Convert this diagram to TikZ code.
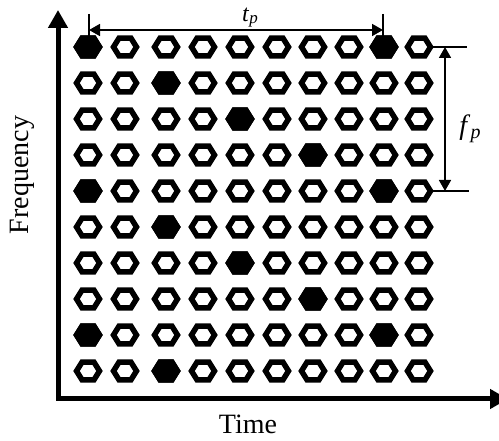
\documentclass[tikz,border=0pt]{standalone}
\usepackage{fontspec}
\setmainfont{Liberation Serif}
\usetikzlibrary{arrows.meta}
\tikzset{
  hexbase/.style={line width=5.5pt, line join=miter, draw=black},
  hexo/.pic={\path[hexbase,fill=white] (-11.5,0)--(-6,-8.8)--(6,-8.8)--(11.5,0)--(6,8.8)--(-6,8.8)--cycle;},
  hexf/.pic={\path[hexbase,fill=black] (-11.5,0)--(-6,-8.8)--(6,-8.8)--(11.5,0)--(6,8.8)--(-6,8.8)--cycle;},
  axisline/.style={line width=5pt, line join=miter, {Triangle[length=18pt,width=19pt]}-{Triangle[length=18pt,width=19pt]}},
  dimline/.style={line width=1.8pt, {Triangle[length=11pt,width=12pt]}-{Triangle[length=11pt,width=12pt]}},
  tickline/.style={line width=1.8pt},
  lbl/.style={font=\fontsize{28}{30}\selectfont, inner sep=0pt}
}
\begin{document}
\begin{tikzpicture}[x=1pt,y=-1pt]
\useasboundingbox (0,0) rectangle (499,441);
% grid of hexagons
\foreach \r [count=\i] in {47,83,119,155,191,227,263,299,335,371} {
  \foreach \c [count=\j] in {88,125,166,203,240,277,313,349,384,419} {
    \coordinate (h-\i-\j) at (\c,\r);
    \pic at (h-\i-\j) {hexo};
  }
}
\foreach \p in {1-1,1-9,2-3,3-5,4-7,5-1,5-9,6-3,7-5,8-7,9-1,9-9,10-3}
  \pic at (h-\p) {hexf};
% axes
\coordinate (ytip) at (58,10);
\coordinate (xtip) at (508,399);
\draw[axisline] (ytip) |- (xtip);
% t_p dimension
\coordinate (tL) at (89,30);
\coordinate (tR) at (383,30);
\coordinate (tL1) at (89,14);
\coordinate (tL2) at (89,37);
\coordinate (tR1) at (383,14);
\coordinate (tR2) at (383,37);
\draw[tickline] (tL1) -- (tL2);
\draw[tickline] (tR1) -- (tR2);
\node[lbl, font=\fontsize{24}{26}\selectfont, anchor=base west] (tp) at (242,22) {\textit{t}\raisebox{-2pt}{\fontsize{17}{19}\selectfont\textit{p}}};
\draw[dimline] (tL) -- (tR);
% f_p dimension
\coordinate (fT) at (445,47);
\coordinate (fB) at (445,191);
\coordinate (fT1) at (432,47);
\coordinate (fT2) at (467,47);
\coordinate (fB1) at (432,191);
\coordinate (fB2) at (469,191);
\draw[tickline] (fT1) -- (fT2);
\draw[tickline] (fB1) -- (fB2);
\draw[dimline] (fT) -- (fB);
\node[lbl] (fp) at (470,129) {\textit{f}\raisebox{-0.35ex}{\fontsize{20}{22}\selectfont\textit{p}}};
% axis labels
\node[lbl, rotate=90] (freq) at (22,175) {Frequency};
\node[lbl] (time) at (248,424) {Time};
\end{tikzpicture}
\end{document}
